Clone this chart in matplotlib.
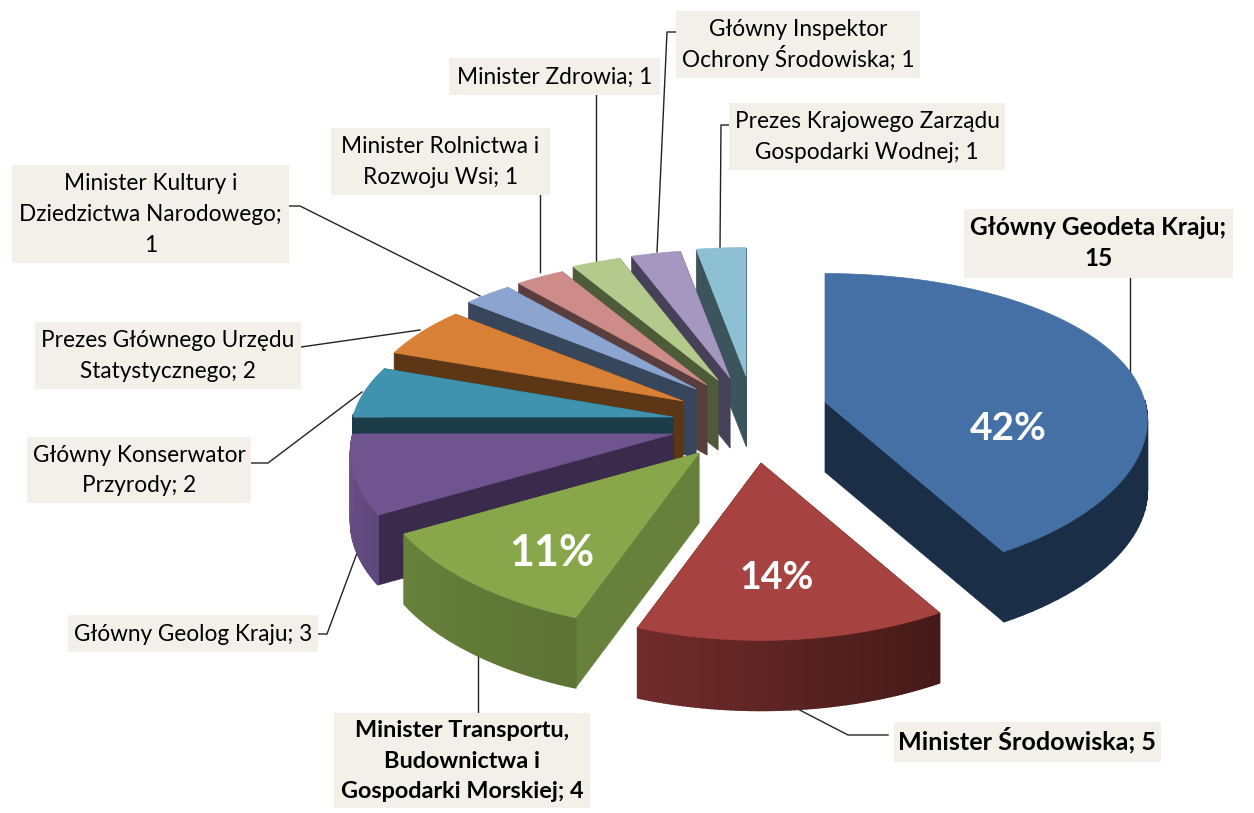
#!/usr/bin/env python3
# exploded 3d pie, drawn by hand because matplotlib has no real 3d pie
import numpy as np
import matplotlib
matplotlib.use("Agg")
import matplotlib.pyplot as plt
from matplotlib.patches import Polygon, Rectangle

# data
values = [15, 5, 4, 3, 2, 2, 1, 1, 1, 1, 1]
labels = ["Główny Geodeta Kraju;\n15", "Minister Środowiska; 5",
	"Minister Transportu,\nBudownictwa i\nGospodarki Morskiej; 4", "Główny Geolog Kraju; 3",
	"Główny Konserwator\nPrzyrody; 2", "Prezes Głównego Urzędu\nStatystycznego; 2",
	"Minister Kultury i\nDziedzictwa Narodowego;\n1", "Minister Rolnictwa i\nRozwoju Wsi; 1",
	"Minister Zdrowia; 1", "Główny Inspektor\nOchrony Środowiska; 1",
	"Prezes Krajowego Zarządu\nGospodarki Wodnej; 1"]
bold_sizes = {0: 17.6, 1: 18.1, 2: 16.9}

# colours: top face, radial wall, outer wall at start and end angle
top_col = ["#4470A6", "#A64240", "#88A64A", "#70548F", "#3F93AE", "#D98037", "#8CA4D0", "#CD8C8A", "#B4C98C", "#A597BF", "#8EC0D4"]
wall_col = ["#1B2E48", "#441A18", "#67803B", "#3A2A4B", "#1B3D4A", "#5D3615", "#38465C", "#5A3D3D", "#4D5B39", "#464058", "#3C545C"]
arc_a = ["#1B2E48", "#441A18", "#5C7334", "#5F477B", "#1B3D4A", "#5D3615", "#38465C", "#5A3D3D", "#4D5B39", "#464058", "#3C545C"]
arc_b = ["#1B2E48", "#702C2B", "#68813B", "#6A4F88", "#1B3D4A", "#5D3615", "#38465C", "#5A3D3D", "#4D5B39", "#464058", "#3C545C"]

# layout in pixels: tip of every exploded slice, label boxes (x0, y0, x1, y1), leader lines
tip_x = [825, 761, 699, 673, 673, 683, 696, 707, 718, 730, 746]
tip_y = [402, 463, 453, 434, 417, 401, 389, 385, 380, 378, 376]
RX, RY, KX, KY, DEPTH = 320, 149, 0.12, 0.16, 70
boxes = [(964, 209, 1233, 278), (894, 722, 1161, 762), (334, 713, 590, 808), (68, 615, 318, 652),
	(27, 437, 251, 503), (35, 322, 301, 389), (12, 165, 289, 263), (331, 128, 550, 195),
	(449, 58, 660, 95), (676, 11, 920, 78), (729, 103, 1005, 170)]
leaders = [[(1130, 278), (1130, 375)], [(888, 735), (848, 735), (790, 705)], [(478, 713), (478, 655)],
	[(318, 634), (327, 634), (360, 545)], [(251, 463), (268, 463), (362, 392)], [(301, 347), (420, 330)],
	[(289, 206), (300, 206), (480, 296)], [(540, 195), (540, 272)], [(596, 95), (596, 262)],
	[(676, 32), (667, 32), (657, 252)], [(729, 125), (721, 125), (720, 248)]]
pct_pos = [(1008, 428, 28), (777, 578, 27), (552, 553, 31)]
LINE_PITCH = 30.5

plt.rcParams['font.family'] = ['Lato', 'DejaVu Sans']
BOX_COL = "#F3F0E9"


def rim(i, theta):  # point on the outer edge of slice i, with simple perspective
	c = np.cos(theta)
	return tip_x[i] + RX * np.sin(theta) / (1 + KX * c), tip_y[i] - RY * c / (1 + KY * c)


def lerp_col(c1, c2, t):
	a = np.array(matplotlib.colors.to_rgb(c1))
	b = np.array(matplotlib.colors.to_rgb(c2))
	return tuple(a + (b - a) * t)


def draw_slice(ax, i, t0, t1):
	thetas = np.linspace(t0, t1, 80)
	xs, ys = rim(i, thetas)
	# radial walls first, the top face hides what should not show
	for t in (t0, t1):
		x, y = rim(i, t)
		pts = [(tip_x[i], tip_y[i]), (x, y), (x, y + DEPTH), (tip_x[i], tip_y[i] + DEPTH)]
		ax.add_patch(Polygon(pts, closed=True, fc=wall_col[i], ec=wall_col[i], lw=0.5, zorder=3))
	# outer wall, only the part that faces us
	for j in range(len(thetas) - 1):
		if np.cos(thetas[j]) > 0.02:
			continue
		c = lerp_col(arc_a[i], arc_b[i], j / (len(thetas) - 2))
		pts = [(xs[j], ys[j]), (xs[j + 1], ys[j + 1]), (xs[j + 1], ys[j + 1] + DEPTH), (xs[j], ys[j] + DEPTH)]
		ax.add_patch(Polygon(pts, closed=True, fc=c, ec=c, lw=1.2, zorder=3))
	top = [(tip_x[i], tip_y[i])] + list(zip(xs, ys))
	ax.add_patch(Polygon(top, closed=True, fc=top_col[i], ec=top_col[i], lw=0.5, zorder=3))


fig = plt.figure(figsize=(12.54, 8.13), dpi=100)
ax = fig.add_axes([0, 0, 1, 1])
ax.set_xlim(0, 1254)
ax.set_ylim(813, 0)
ax.axis("off")

total = sum(values)
edges = np.cumsum([0] + values) / total * 2 * np.pi

# leaders go under the slices
for line in leaders:
	ax.plot([p[0] for p in line], [p[1] for p in line], color="#222222", lw=1.0, zorder=1)

# back to front, blue slice before the red one
for i in [10, 9, 8, 7, 6, 5, 4, 3, 2, 0, 1]:
	draw_slice(ax, i, edges[i], edges[i + 1])

for i, txt in enumerate(labels):
	x0, y0, x1, y1 = boxes[i]
	ax.add_patch(Rectangle((x0, y0), x1 - x0, y1 - y0, fc=BOX_COL, ec="none", zorder=4))
	# one text per line, matplotlib line spacing changes with the glyphs in the line
	lines = txt.split("\n")
	for k, part in enumerate(lines):
		base = (y0 + y1) / 2 + (k - (len(lines) - 1) / 2) * LINE_PITCH + 7
		ax.text((x0 + x1) / 2, base, part, ha="center", va="baseline", fontsize=bold_sizes.get(i, 16.3),
			fontweight="bold" if i in bold_sizes else "normal", color="black", zorder=5)

# only the big slices carry a percentage
for i, (x, y, size) in enumerate(pct_pos):
	ax.text(x, y, f"{round(values[i] / total * 100)}%", ha="center", va="center", fontsize=size,
		fontweight="bold", color="white", zorder=6)

fig.savefig("out.png", dpi=100)
